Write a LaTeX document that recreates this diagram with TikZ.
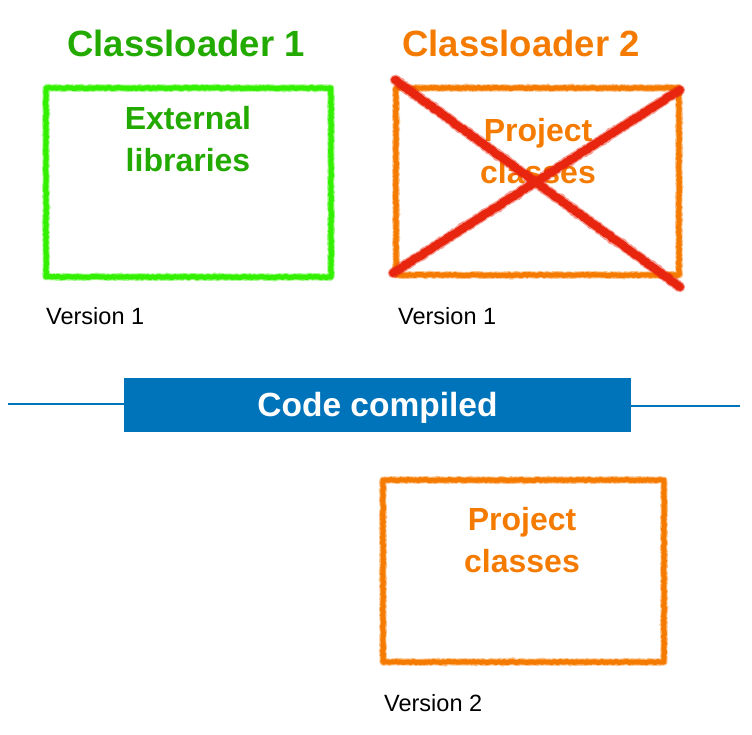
\documentclass[tikz,border=0pt]{standalone}
\usepackage{fontspec}
\setmainfont{Liberation Sans}
\usetikzlibrary{decorations.pathmorphing}
\definecolor{cgreen}{HTML}{33F000}
\definecolor{tgreen}{HTML}{22AA00}
\definecolor{corange}{HTML}{F57B00}
\definecolor{cred}{HTML}{E8250F}
\definecolor{cblue}{HTML}{0074BA}
\begin{document}
\begin{tikzpicture}[x=1pt,y=-1pt,
  crayon/.style={draw=#1, line width=5pt, line join=round, decorate,
    decoration={random steps,segment length=1.2pt,amplitude=0.5pt},
    preaction={draw=#1, draw opacity=0.45, line width=7pt, line join=round,
      decorate, decoration={random steps,segment length=0.9pt,amplitude=0.9pt}}},
  crayonx/.style={draw=#1, line width=8pt, line cap=round, line join=round, decorate,
    decoration={random steps,segment length=1.2pt,amplitude=0.6pt},
    preaction={draw=#1, draw opacity=0.45, line width=10.5pt, line cap=round,
      line join=round, decorate,
      decoration={random steps,segment length=0.9pt,amplitude=1pt}}},
  boxshape/.style={minimum width=#1, inner sep=0pt, outer sep=0pt, anchor=north west},
  title/.style={font=\fontsize{36.5}{40}\selectfont\bfseries, text=#1},
  inner/.style={font=\fontsize{32}{42}\selectfont\bfseries, text=#1, align=center},
  version/.style={font=\fontsize{23.5}{26}\selectfont, anchor=west, inner sep=0pt},
  bar/.style={fill=cblue, minimum width=507pt, minimum height=54pt, inner sep=0pt,
    text height=24pt, text depth=0pt,
    text=white, font=\fontsize{33.5}{36}\selectfont\bfseries},
  barline/.style={draw=cblue, line width=2pt}
]
\useasboundingbox (0,0) rectangle (752,734);

% titles
\node[title=tgreen] (t1) at (186,43) {Classloader 1};
\node[title=corange] (t2) at (521,43) {Classloader 2};

% top boxes
\node[crayon=cgreen, boxshape=285pt, minimum height=189pt] (b1) at (46,88) {};
\node[crayon=corange, boxshape=283pt, minimum height=187pt] (b2) at (396,88) {};
\node[inner=tgreen] (e1) at (188,139) {External\\libraries};
\node[inner=corange] (p1) at (538,151) {Project\\classes};

% red cross
\coordinate (x1) at (395,80);
\coordinate (x2) at (680,287);
\coordinate (x3) at (393,273);
\coordinate (x4) at (680,90);
\draw[crayonx=cred] (x1) -- (x2);
\draw[crayonx=cred] (x3) -- (x4);

% versions
\node[version] (v1) at (46,316) {Version 1};
\node[version] (v2) at (398,316) {Version 1};

% bar
\node[bar] (bar) at (377.5,404.5) {Code compiled};
\coordinate (ll) at (8,404);
\coordinate (rr) at (740,406);
\draw[barline] (ll) -- (ll -| bar.west);
\draw[barline] (rr -| bar.east) -- (rr);

% bottom box
\node[crayon=corange, boxshape=281pt, minimum height=182pt] (b3) at (383,480) {};
\node[inner=corange] (p2) at (522,540) {Project\\classes};
\node[version] (v3) at (384,703) {Version 2};
\end{tikzpicture}
\end{document}
